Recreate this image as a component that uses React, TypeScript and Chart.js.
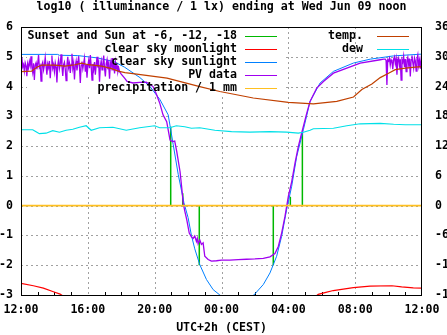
import React, { useEffect, useRef } from "react";
import { Chart, registerables } from "chart.js";

Chart.register(...registerables);

const TITLE = "log10 ( illuminance / 1 lx) ending at Wed Jun 09 noon";
const X_TITLE = "UTC+2h (CEST)";
const xTickLabels = ["12:00", "16:00", "20:00", "00:00", "04:00", "08:00", "12:00"];

// hours after 12:00 (local, UTC+2)
const sunTimes = [8.96, 9.68, 10.67, 15.1, 16.12, 16.84];
const sunHeights = [2.65, 0.42, -2.0, -2.0, 0.3, 2.46];

const moonLeft: [number, number][] = [
  [0, -2.61], [0.74, -2.69], [1.34, -2.77], [1.94, -2.89], [2.34, -2.97], [2.7, -3.1],
];
const moonRight: [number, number][] = [
  [17.5, -3.1], [17.79, -2.98], [18.19, -2.92], [18.69, -2.85], [19.29, -2.8], [19.89, -2.75],
  [20.89, -2.7], [22.2, -2.69], [22.78, -2.73], [23.48, -2.76], [24, -2.77],
];

const sunlight: [number, number][] = [
  [0, 5.08], [2.2, 5.08], [2.3, 5.05], [3.4, 5.04], [4.6, 4.96], [5.6, 4.83], [6.2, 4.65],
  [7.12, 4.3], [7.72, 4.0], [8.32, 3.56], [8.81, 3.05], [9.11, 2.05], [9.41, 1.05], [9.75, 0.1],
  [10.0, -0.4], [10.2, -1.0], [10.4, -1.45], [10.7, -1.98], [11.1, -2.48], [11.5, -2.82],
  [11.9, -3.0], [12.3, -3.15], [13.5, -3.15], [13.94, -3.0], [14.5, -2.65], [14.9, -2.26],
  [15.3, -1.7], [15.6, -1.03], [15.9, -0.13], [16.2, 0.65], [16.5, 1.65], [16.9, 2.55],
  [17.3, 3.5], [17.9, 4.12], [18.7, 4.51], [19.9, 4.79], [20.9, 4.92], [22.3, 5.03], [24, 5.09],
];

// PV data: noisy afternoon part, sampled every 0.05 h from 0.0 h
const pvNoiseLeftStart = 0;
const pvNoiseStep = 0.05;
const pvNoiseLeft = [
  4.72, 4.98, 4.66, 4.74, 4.52, 4.8, 4.7, 4.35, 4.76, 4.62, 4.84, 4.7, 5.02, 4.66, 4.48, 4.78, 4.22, 4.72, 4.8, 4.58,
  4.76, 5.06, 4.64, 4.7, 4.18, 4.74, 4.82, 4.56, 4.72, 4.98, 4.68, 4.4, 4.76, 4.64, 4.86, 4.28, 4.7, 5.04, 4.62, 4.74,
  4.5, 4.8, 4.66, 4.14, 4.72, 4.9, 4.6, 4.76, 5.08, 4.68, 4.36, 4.74, 4.82, 4.58, 4.2, 4.72, 5.0, 4.64, 4.78, 4.46,
  4.74, 5.1, 4.62, 4.8, 4.24, 4.7, 4.86, 4.54, 4.76, 5.02, 4.66, 4.12, 4.72, 4.84, 4.6, 4.78, 4.96, 4.5, 4.74, 4.3,
  4.7, 4.88, 4.62, 5.06, 4.68, 4.22, 4.76, 4.58, 4.82, 4.4, 4.72, 5.0, 4.64, 4.78, 4.16, 4.7, 4.86, 4.56, 4.74, 5.04,
  4.62, 4.34, 4.76, 4.9, 4.58, 4.72, 4.26, 4.8, 4.66, 4.96, 4.54, 4.74, 4.44, 4.82, 4.6, 4.7, 4.5, 4.62,
];
const pvMiddle: [number, number][] = [
  [5.9, 4.5], [6.0, 4.42], [6.2, 4.28], [6.35, 4.17], [6.7, 4.12], [7.1, 4.14], [7.5, 4.15],
  [7.7, 4.08], [7.9, 4.0], [8.1, 3.75], [8.3, 3.45], [8.5, 3.05], [8.72, 2.82], [8.92, 2.2],
  [9.05, 2.15], [9.2, 2.17], [9.32, 1.82], [9.52, 1.14], [9.62, 0.6], [9.71, 0.08],
  [9.81, -0.2], [9.92, -0.47], [10.07, -0.92], [10.2, -1.05], [10.3, -1.1], [10.4, -1.02],
  [10.5, -1.2], [10.55, -1.1], [10.6, -1.28], [10.7, -1.15], [10.8, -1.3], [10.9, -1.25],
  [11.0, -1.7], [11.2, -1.81], [11.4, -1.86], [11.7, -1.85], [12.0, -1.83], [12.5, -1.83],
  [13.0, -1.81], [13.5, -1.8], [14.0, -1.79], [14.5, -1.77], [14.9, -1.72], [15.2, -1.61],
  [15.4, -1.37], [15.6, -0.92], [15.8, -0.36], [16.0, 0.31], [16.2, 0.8], [16.4, 1.43],
  [16.6, 1.99], [16.8, 2.44], [17.1, 3.1], [17.3, 3.5], [17.7, 3.95], [18.1, 4.17],
  [18.7, 4.45], [19.5, 4.62], [20.3, 4.79], [21.5, 4.9], [21.7, 4.92],
];
// noisy morning part, sampled every 0.05 h from 21.8 h
const pvNoiseRightStart = 21.8;
const pvNoiseRight = [
  4.92, 4.88, 4.05, 4.9, 4.86, 4.95, 4.72, 4.9, 4.84, 4.58, 4.92, 5.0, 4.78, 4.94, 4.4,
  4.88, 4.96, 4.7, 4.92, 4.22, 4.9, 4.82, 5.02, 4.66, 4.92, 4.5, 4.88, 4.98, 4.74, 4.94,
  4.34, 4.9, 5.04, 4.8, 4.62, 4.96, 4.86, 4.52, 4.92, 5.06, 4.7, 4.88, 4.6, 4.94, 4.84,
];

const precipitation: [number, number][] = [[0, 0], [24, 0]];

// temperatures in °C (right axis)
const temp: [number, number][] = [
  [0, 27.0], [0.64, 27.1], [0.94, 27.9], [1.24, 28.3], [2.03, 28.3], [2.63, 28.1], [3.23, 28.4],
  [3.63, 28.7], [4.03, 28.4], [4.83, 28.1], [5.43, 27.6], [5.82, 27.1], [6.22, 26.8], [6.7, 26.6],
  [8.74, 25.7], [10.7, 24.0], [11.9, 23.0], [13.9, 21.7], [16.0, 20.8], [17.5, 20.5], [18.9, 21.0],
  [19.9, 21.9], [20.4, 23.4], [21.0, 24.5], [21.5, 25.8], [22.0, 26.7], [22.4, 27.4], [23.0, 27.7],
  [23.6, 27.9], [24, 28.0],
];
const dew: [number, number][] = [
  [0, 15.3], [0.7, 15.3], [0.9, 14.9], [1.1, 14.5], [1.5, 14.6], [1.9, 15.1], [2.3, 14.8],
  [2.7, 15.2], [3.1, 15.4], [3.5, 15.8], [3.9, 16.1], [4.2, 15.2], [4.7, 15.7], [5.5, 15.8],
  [6.3, 15.2], [7.1, 15.7], [8.0, 16.1], [8.3, 15.7], [8.9, 15.7], [9.3, 16.1], [9.8, 15.9],
  [10.2, 15.6], [10.7, 15.7], [11.6, 15.2], [12.6, 14.9], [13.7, 14.8], [14.9, 14.9], [15.9, 14.8],
  [16.6, 14.6], [16.9, 14.8], [17.3, 15.2], [17.5, 15.5], [18.7, 15.6], [19.5, 16.1], [20.3, 16.5],
  [21.5, 16.6], [22.3, 16.4], [23.0, 16.3], [24, 16.3],
];

const FAMILY = "'DejaVu Sans Mono', 'Liberation Mono', monospace";
const SIZE = 11.6;
const FONT_CSS = `bold ${SIZE}px ${FAMILY}`;
const tickFont = { family: FAMILY, size: SIZE, weight: "bold" as const };

type XY = { x: number; y: number | null };
const pts = (a: [number, number][]): XY[] => a.map(([x, y]) => ({ x, y }));

function buildImpulses(): XY[] {
  const out: XY[] = [];
  sunTimes.forEach((t, i) => {
    out.push({ x: t, y: 0 }, { x: t, y: sunHeights[i] }, { x: t, y: null });
  });
  return out;
}

function buildPV(): XY[] {
  const left = pvNoiseLeft.map((v, i) => ({ x: pvNoiseLeftStart + i * pvNoiseStep, y: v }));
  const right = pvNoiseRight.map((v, i) => ({ x: pvNoiseRightStart + i * pvNoiseStep, y: v }));
  return [...left, ...pts(pvMiddle), ...right];
}

const gnuplotPlugin = {
  id: "gnuplotFrame",
  beforeDatasetsDraw(chart: any) {
    const { ctx, chartArea: a, scales } = chart;
    const xs = scales.x;
    const ys = scales.y;
    ctx.save();
    ctx.strokeStyle = "#a0a0a0";
    ctx.lineWidth = 1;
    ctx.setLineDash([2, 3]);
    ctx.beginPath();
    xs.ticks.forEach((t: any) => {
      if (t.value <= xs.min || t.value >= xs.max) return;
      const x = Math.round(xs.getPixelForValue(t.value)) + 0.5;
      ctx.moveTo(x, a.top);
      ctx.lineTo(x, a.bottom);
    });
    ys.ticks.forEach((t: any) => {
      if (t.value <= ys.min || t.value >= ys.max) return;
      const y = Math.round(ys.getPixelForValue(t.value)) + 0.5;
      ctx.moveTo(a.left, y);
      ctx.lineTo(a.right, y);
    });
    ctx.stroke();
    ctx.setLineDash([]);
    // opaque key background
    ctx.fillStyle = "#ffffff";
    ctx.fillRect(a.left + 6, a.top + 1, 256, 66);
    // minor x ticks
    ctx.strokeStyle = "#000";
    ctx.beginPath();
    for (let h = xs.min + 1; h < xs.max; h++) {
      if (h % 4 === 0) continue;
      const x = Math.round(xs.getPixelForValue(h)) + 0.5;
      ctx.moveTo(x, a.bottom);
      ctx.lineTo(x, a.bottom - 3);
    }
    ctx.stroke();
    ctx.restore();
  },
  afterDatasetsDraw(chart: any) {
    const { ctx, chartArea: a } = chart;
    ctx.save();
    ctx.font = FONT_CSS;
    ctx.fillStyle = "#000";
    ctx.textBaseline = "middle";
    ctx.textAlign = "right";
    const ds = chart.data.datasets;
    ds.forEach((d: any, i: number) => {
      const right = i >= 5;
      const row = right ? i - 5 : i;
      const y = Math.round(a.top + 9 + row * 13.1);
      const textX = right ? a.left + 342 : a.left + 216;
      const s0 = right ? a.left + 356 : a.left + 224;
      ctx.fillStyle = "#000";
      ctx.fillText(d.label, textX, y);
      ctx.strokeStyle = d.borderColor;
      ctx.lineWidth = 1;
      ctx.beginPath();
      ctx.moveTo(s0, y + 0.5);
      ctx.lineTo(s0 + 32, y + 0.5);
      ctx.stroke();
    });
    // border
    ctx.strokeStyle = "#000";
    ctx.lineWidth = 1;
    ctx.strokeRect(
      Math.round(a.left) + 0.5,
      Math.round(a.top) + 0.5,
      Math.round(a.right - a.left) - 1,
      Math.round(a.bottom - a.top)
    );
    // title
    ctx.textAlign = "center";
    ctx.fillStyle = "#000";
    ctx.fillText(TITLE, (a.left + a.right) / 2, 7);
    ctx.restore();
  },
};

export default function App() {
  const ref = useRef<HTMLCanvasElement | null>(null);
  useEffect(() => {
    if (!ref.current) return;
    const base = { pointRadius: 0, borderWidth: 1, fill: false, tension: 0, spanGaps: false };
    const chart = new Chart(ref.current, {
      type: "line",
      data: {
        datasets: [
          { ...base, label: "Sunset and Sun at -6, -12, -18", data: buildImpulses(), borderColor: "#00b800", borderWidth: 1.5, yAxisID: "y", order: 7 },
          { ...base, label: "clear sky moonlight", data: [...pts(moonLeft), { x: 10, y: null }, ...pts(moonRight)], borderColor: "#ff0000", borderWidth: 1.2, yAxisID: "y", order: 6 },
          { ...base, label: "clear sky sunlight", data: pts(sunlight), borderColor: "#0080ff", yAxisID: "y", order: 5 },
          { ...base, label: "PV data", data: buildPV(), borderColor: "#a000f0", borderWidth: 1.3, yAxisID: "y", order: 4 },
          { ...base, label: "precipitation / 1 mm", data: pts(precipitation), borderColor: "#ffc020", borderWidth: 1.6, yAxisID: "y", order: 3 },
          { ...base, label: "temp.", data: pts(temp), borderColor: "#c04000", borderWidth: 1.2, yAxisID: "y1", order: 2 },
          { ...base, label: "dew", data: pts(dew), borderColor: "#00e0e8", borderWidth: 1.2, yAxisID: "y1", order: 1 },
        ] as any,
      },
      options: {
        animation: false,
        responsive: false,
        devicePixelRatio: 1,
        layout: { padding: { top: 27, left: 0, right: 0, bottom: 0 } },
        plugins: { legend: { display: false }, title: { display: false }, tooltip: { enabled: false } },
        scales: {
          x: {
            type: "linear",
            position: "bottom",
            min: 0,
            max: 24,
            grid: { display: false, drawTicks: false },
            border: { display: false },
            ticks: {
              stepSize: 4,
              autoSkip: false,
              maxRotation: 0,
              padding: 8,
              color: "#000",
              font: tickFont,
              callback: (v: any) => xTickLabels[Math.round(Number(v) / 4)] ?? "",
            },
            title: { display: true, text: X_TITLE, color: "#000", font: tickFont, padding: { top: 0, bottom: 0.5 } },
            afterFit: (s: any) => {
              s.height = 40;
              s.paddingLeft = 0;
              s.paddingRight = 0;
            },
          },
          y: {
            type: "linear",
            position: "left",
            min: -3,
            max: 6,
            grid: { display: false, drawTicks: false },
            border: { display: false },
            ticks: { stepSize: 1, padding: 8, color: "#000", font: tickFont, autoSkip: false },
            afterFit: (s: any) => {
              s.width = 21;
              s.paddingTop = 0;
              s.paddingBottom = 0;
            },
          },
          y1: {
            type: "linear",
            position: "right",
            min: -18,
            max: 36,
            grid: { display: false, drawTicks: false },
            border: { display: false },
            ticks: { stepSize: 6, padding: 13, color: "#000", font: tickFont, autoSkip: false },
            afterFit: (s: any) => {
              s.width = 25;
              s.paddingTop = 0;
              s.paddingBottom = 0;
            },
          },
        },
      } as any,
      plugins: [gnuplotPlugin],
    });
    return () => chart.destroy();
  }, []);
  return (
    <div style={{ position: "absolute", left: 0, top: 0, width: 447, height: 335, background: "#fff" }}>
      <canvas ref={ref} width={447} height={335} style={{ display: "block" }} />
    </div>
  );
}
